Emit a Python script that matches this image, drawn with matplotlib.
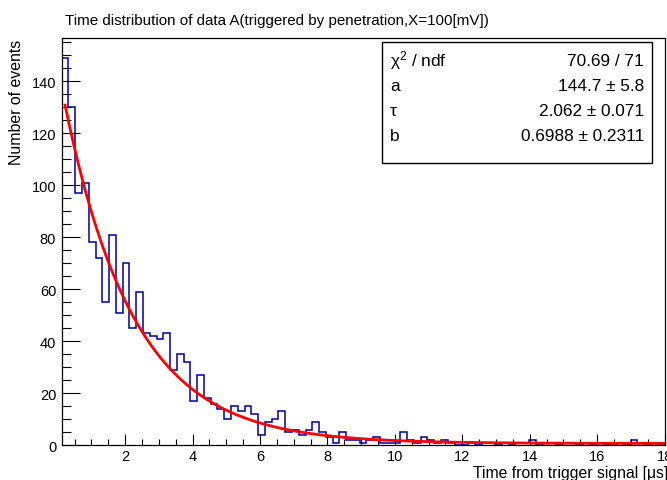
import numpy as np
import matplotlib
matplotlib.use("Agg")
import matplotlib.pyplot as plt
from matplotlib.patches import Rectangle
from matplotlib.ticker import MultipleLocator

plt.rcParams['font.family'] = ['Liberation Sans', 'DejaVu Sans']
plt.rcParams['mathtext.fontset'] = 'custom'
plt.rcParams['mathtext.rm'] = 'Liberation Sans'
plt.rcParams['mathtext.it'] = 'Liberation Sans'

# Histogramm: 89 Bins von 0.12 bis 18
x_min, x_max, n_bins = 0.12, 18.0, 89
counts = [149, 130, 97, 101, 78, 72, 55, 81, 51, 70,
          45, 59, 43, 42, 41, 43, 29, 35, 32, 17,
          27, 18, 16, 14, 10, 15, 13, 15, 12, 4,
          9, 10, 13, 5, 6, 4, 6, 9, 5, 3,
          1, 5, 2, 2, 1, 2, 3, 1, 1, 1,
          5, 2, 1, 3, 2, 1, 2, 1, 0, 0,
          1, 0, 1, 1, 0, 1, 0, 1, 1, 2,
          0, 1, 1, 0, 1, 1, 0, 1, 0, 1,
          0, 0, 1, 0, 2, 1, 0, 1, 0]

# Fitparameter
fit_a, fit_tau, fit_b = 144.7, 2.062, 0.6988
fit_range = (0.22, 18.0)

stat_names = ["χ$^{2}$ / ndf", "a", "τ", "b"]
stat_values = ["70.69 / 71", "144.7 ± 5.8", "2.062 ± 0.071", "0.6988 ± 0.2311"]

title = "Time distribution of data A(triggered by penetration,X=100[mV])"
x_title = "Time from trigger signal [μs]"
y_title = "Number of events"

W, H = 667, 481
fig = plt.figure(figsize=(W / 100, H / 100), dpi=100)
left, right, top, bottom = 61.7, 664.5, 39.3, 446.3
ax = fig.add_axes([left / W, 1 - bottom / H, (right - left) / W, (bottom - top) / H])

edges = np.linspace(x_min, x_max, n_bins + 1)
ax.stairs(counts, edges, color=(0, 0, 0.6), lw=1.1)

xf = np.linspace(fit_range[0], fit_range[1], 400)
ax.plot(xf, fit_a * np.exp(-xf / fit_tau) + fit_b, color="red", lw=2)

ax.set_xlim(x_min, x_max)
ax.set_ylim(0, 1.05 * max(counts))

ax.xaxis.set_major_locator(MultipleLocator(2))
ax.xaxis.set_minor_locator(MultipleLocator(0.5))
ax.yaxis.set_major_locator(MultipleLocator(20))
ax.yaxis.set_minor_locator(MultipleLocator(5))
ax.tick_params(axis="x", which="major", direction="in", length=8, width=0.8, labelsize=10.5, pad=3)
ax.tick_params(axis="x", which="minor", direction="in", length=4, width=0.8)
ax.tick_params(axis="y", which="major", direction="in", length=13, width=0.8, labelsize=10.5, pad=4)
ax.tick_params(axis="y", which="minor", direction="in", length=6.5, width=0.8)
for s in ax.spines.values():
    s.set_linewidth(0.9)

fig.text(65 / W, 1 - 20.5 / H, title, fontsize=10.9, ha="left", va="center")
fig.text(17 / W, 1 - top / H, y_title, fontsize=11.4, rotation=90, ha="center", va="top")
fig.text(668 / W, 1 - 478.5 / H, x_title, fontsize=11.3, ha="right", va="baseline")

# Statistikbox
bx0, bx1, by0, by1 = 381.7, 651.7, 42.7, 164
fig.patches.append(Rectangle((bx0 / W, 1 - by1 / H), (bx1 - bx0) / W, (by1 - by0) / H,
                             transform=fig.transFigure, facecolor="white",
                             edgecolor="black", lw=1, zorder=5))
baselines = [66.5, 91, 116, 141.5]
for name, val, yb in zip(stat_names, stat_values, baselines):
    fig.text(390 / W, 1 - yb / H, name, fontsize=12.4, ha="left", va="baseline", zorder=6)
    fig.text(644 / W, 1 - yb / H, val, fontsize=12.4, ha="right", va="baseline", zorder=6)

fig.savefig("out.png", dpi=100)
